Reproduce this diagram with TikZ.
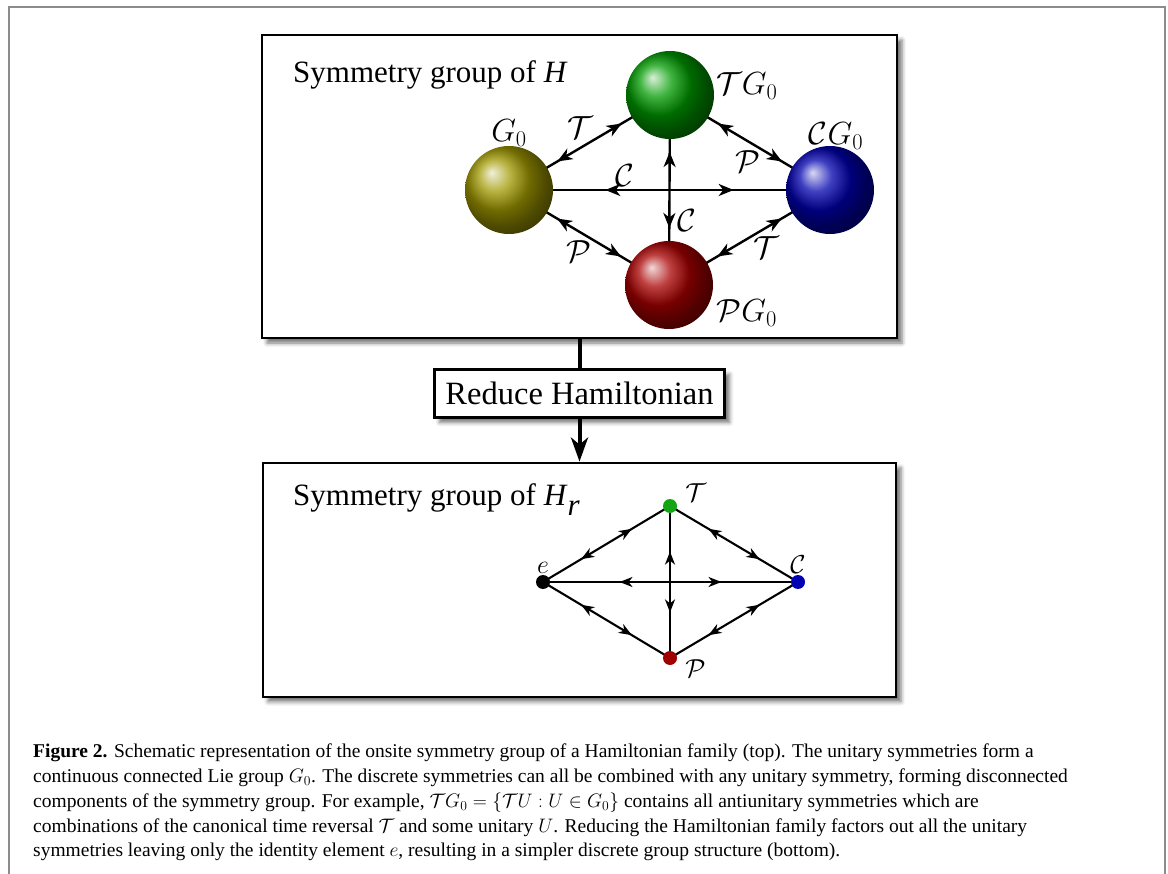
\RequirePackage{fix-cm}
\documentclass[tikz,border=0pt]{standalone}
\usepackage[no-math]{fontspec}
\setmainfont{Liberation Serif}
\usetikzlibrary{positioning,arrows.meta,decorations.markings,shadows.blur}

\definecolor{ballolive}{RGB}{160,152,0}
\definecolor{ballgreen}{RGB}{0,155,0}
\definecolor{ballblue}{RGB}{0,0,175}
\definecolor{ballred}{RGB}{170,0,0}
\definecolor{dotgreen}{RGB}{20,165,20}
\definecolor{dotblue}{RGB}{0,0,180}
\definecolor{dotred}{RGB}{160,0,0}

\pgfdeclarelayer{back}
\pgfdeclarelayer{mid}
\pgfsetlayers{back,mid,main}

\begin{document}
\begin{tikzpicture}[
    x=1pt, y=-1pt,
    >={Stealth[length=15pt,width=12pt,inset=4.5pt]},
    every node/.style={font=\fontsize{32}{38}\selectfont},
    panel/.style={draw,line width=2.4pt,fill=white,
        blur shadow={shadow xshift=5pt,shadow yshift=-5pt,shadow blur radius=4pt,shadow opacity=55}},
    title/.style={font=\fontsize{31}{37}\selectfont,inner sep=0pt},
    ball/.style={circle,minimum size=88pt,inner sep=0pt},
    dot/.style={circle,fill,minimum size=14pt,inner sep=0pt},
    twoway/.style={line width=#1,postaction={decorate},
        decoration={markings,
            mark=at position 0.3 with {\arrowreversed{>}},
            mark=at position 0.7 with {\arrow{>}}}},
    link/.style={line width=4pt},
    lbl/.style={inner sep=1pt},
    smalllbl/.style={inner sep=1pt,font=\fontsize{26}{30}\selectfont},
    pageframe/.style={draw=black!45,line width=2.5pt}
]
\useasboundingbox (0,0) rectangle (1168,874);

% Page frame
\draw[pageframe] (9,874) -- (9,7) -- (1165,7) -- (1165,874);

% Panels
\begin{pgfonlayer}{back}
\node[panel,minimum width=635pt,minimum height=303pt] (top) at (579.5,186.5) {};
\node[panel,below=29pt of top,minimum width=290pt,minimum height=48pt,
      font=\fontsize{32.5}{39}\selectfont] (reduce) {Reduce Hamiltonian};
\node[panel,below=43pt of reduce,minimum width=633pt,minimum height=234pt] (bottom) {};
\end{pgfonlayer}

\node[title,anchor=base west] (toptitle) at (293,83) {Symmetry group of \textit{H}};
\node[title,anchor=base west] (bottitle) at (293,505)
    {Symmetry group of \textit{H}\raisebox{-0.34em}{\textit{r}}};

% Full symmetry group
\node[ball,ball color=ballgreen] (tg0) at (670,95) {};
\node[ball,ball color=ballolive] (g0)  at (509,190) {};
\node[ball,ball color=ballblue]  (cg0) at (830,190) {};
\node[ball,ball color=ballred]   (pg0) at (669,285) {};

\node[lbl,above=-2pt of g0] (g0lbl) {$G_0$};
\node[lbl,right=1pt of tg0,yshift=9pt] (tg0lbl) {$\mathcal{T}G_0$};
\node[lbl,above=-5pt of cg0,xshift=6pt] (cg0lbl) {$\mathcal{C}G_0$};
\node[lbl,anchor=west] (pg0lbl) at ([xshift=15pt,yshift=3pt]pg0.south east) {$\mathcal{P}G_0$};

\begin{pgfonlayer}{mid}
\draw[twoway=2.4pt] (g0.center) -- (tg0.center) node[pos=0.53,above left,inner sep=0pt] {$\mathcal{T}$};
\draw[twoway=2.4pt] (g0.center) -- (cg0.center) node[pos=0.36,above,inner sep=2pt] {$\mathcal{C}$};
\draw[twoway=2.4pt] (tg0.center) -- (pg0.center) node[pos=0.66,right,inner sep=7pt] {$\mathcal{C}$};
\draw[twoway=2.4pt] (tg0.center) -- (cg0.center) node[pos=0.57,below left,inner sep=0pt] {$\mathcal{P}$};
\draw[twoway=2.4pt] (g0.center) -- (pg0.center) node[pos=0.52,below left,inner sep=0pt] {$\mathcal{P}$};
\draw[twoway=2.4pt] (pg0.center) -- (cg0.center) node[pos=0.52,below right,inner sep=0pt] {$\mathcal{T}$};
\end{pgfonlayer}

% Reduction step
\draw[link] (top) -- (reduce);
\draw[link,-{Stealth[length=24pt,width=17pt,inset=7pt]}] (reduce) -- (bottom);

% Reduced group
\node[dot] (ve) at (543,582) {};
\node[dot,fill=dotgreen] (vt) at (670,506) {};
\node[dot,fill=dotblue]  (vc) at (798,582) {};
\node[dot,fill=dotred]   (vp) at (670,658) {};

\node[smalllbl,above=0pt of ve] (elbl) {$e$};
\node[smalllbl,right=7pt of vt,yshift=13pt] (tlbl) {$\mathcal{T}$};
\node[smalllbl,above=0pt of vc] (clbl) {$\mathcal{C}$};
\node[smalllbl,right=7pt of vp,yshift=-11pt] (plbl) {$\mathcal{P}$};

\begin{pgfonlayer}{mid}
\begin{scope}[>={Stealth[length=13pt,width=10pt,inset=4pt]}]
\draw[twoway=2.1pt] (ve.center) -- (vt.center);
\draw[twoway=2.1pt] (ve.center) -- (vc.center);
\draw[twoway=2.1pt] (vt.center) -- (vp.center);
\draw[twoway=2.1pt] (vt.center) -- (vc.center);
\draw[twoway=2.1pt] (ve.center) -- (vp.center);
\draw[twoway=2.1pt] (vp.center) -- (vc.center);
\end{scope}
\end{pgfonlayer}

% Caption
\node[anchor=north west,align=left,inner sep=0pt,font=\fontsize{19.5}{24.7}\selectfont] (caption) at (33,744)
{\textbf{Figure 2.} Schematic representation of the onsite symmetry group of a Hamiltonian family (top). The unitary symmetries form a\\
continuous connected Lie group $G_0$. The discrete symmetries can all be combined with any unitary symmetry, forming disconnected\\
components of the symmetry group. For example, $\mathcal{T}G_0=\{\mathcal{T}U:U\in G_0\}$ contains all antiunitary symmetries which are\\
combinations of the canonical time reversal $\mathcal{T}$ and some unitary $U$. Reducing the Hamiltonian family factors out all the unitary\\
symmetries leaving only the identity element $e$, resulting in a simpler discrete group structure (bottom).};

\end{tikzpicture}
\end{document}
